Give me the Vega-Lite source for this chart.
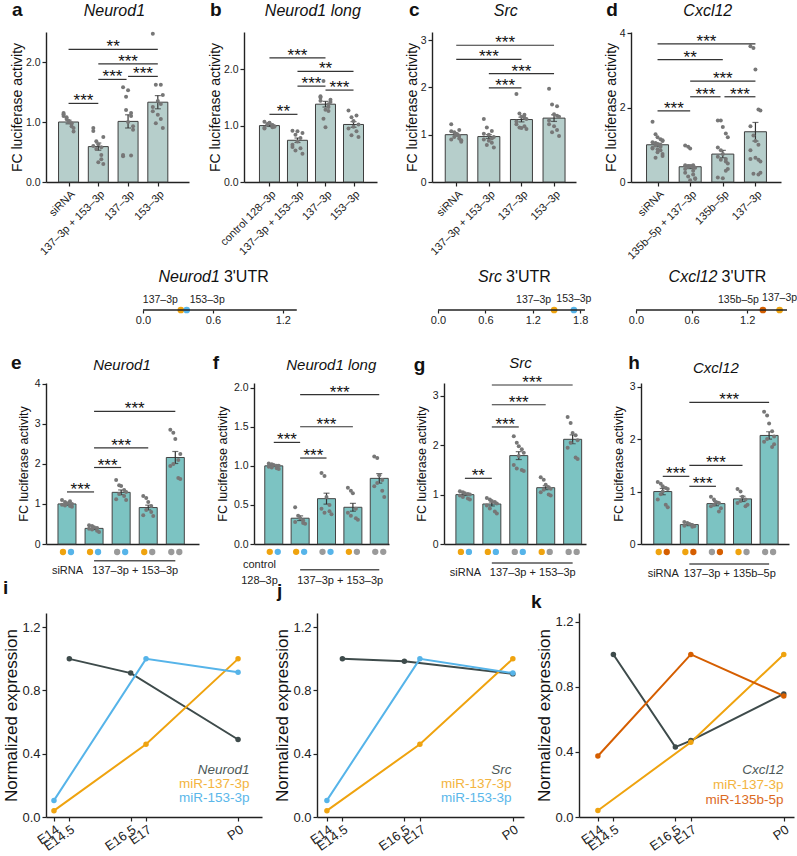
{
"$schema": "https://vega.github.io/schema/vega-lite/v6.json",
"padding": {"left": 2, "top": 0, "right": 0, "bottom": 0},
"config": {
 "font": "Liberation Sans",
 "view": {"stroke": null},
 "axis": {"grid": false, "domainColor": "#222", "domainWidth": 1.4, "tickColor": "#222", "tickWidth": 1.2, "tickSize": 4, "labelColor": "#222", "labelFontSize": 11, "labelFlush": false, "labelOverlap": false, "labelBound": false, "titleColor": "#111", "titleFontWeight": "normal", "titleFontSize": 14, "labelPadding": 2},
 "text": {"color": "#111"},
 "legend": {"padding": 0}
},
"datasets": {
 "bars": [
  {"p":"a","x":1,"y":1.0,"lo":0.97,"hi":1.03},{"p":"a","x":2,"y":0.59,"lo":0.53,"hi":0.65},{"p":"a","x":3,"y":1.01,"lo":0.9,"hi":1.12},{"p":"a","x":4,"y":1.33,"lo":1.22,"hi":1.44},
  {"p":"b","x":1,"y":1.0,"lo":0.985,"hi":1.015},{"p":"b","x":2,"y":0.74,"lo":0.7,"hi":0.78},{"p":"b","x":3,"y":1.38,"lo":1.33,"hi":1.43},{"p":"b","x":4,"y":1.02,"lo":0.97,"hi":1.07},
  {"p":"c","x":1,"y":1.0,"lo":0.97,"hi":1.03},{"p":"c","x":2,"y":0.96,"lo":0.92,"hi":1.0},{"p":"c","x":3,"y":1.32,"lo":1.27,"hi":1.37},{"p":"c","x":4,"y":1.35,"lo":1.28,"hi":1.42},
  {"p":"d","x":1,"y":1.0,"lo":0.96,"hi":1.04},{"p":"d","x":2,"y":0.41,"lo":0.36,"hi":0.46},{"p":"d","x":3,"y":0.75,"lo":0.65,"hi":0.85},{"p":"d","x":4,"y":1.35,"lo":1.1,"hi":1.6},
  {"p":"e","x":1,"y":1.0,"lo":0.97,"hi":1.03},{"p":"e","x":2,"y":0.39,"lo":0.36,"hi":0.42},{"p":"e","x":3,"y":1.29,"lo":1.23,"hi":1.35},{"p":"e","x":4,"y":0.91,"lo":0.85,"hi":0.97},{"p":"e","x":5,"y":2.16,"lo":2.01,"hi":2.31},
  {"p":"f","x":1,"y":1.0,"lo":0.99,"hi":1.01},{"p":"f","x":2,"y":0.33,"lo":0.3,"hi":0.36},{"p":"f","x":3,"y":0.58,"lo":0.51,"hi":0.65},{"p":"f","x":4,"y":0.47,"lo":0.42,"hi":0.52},{"p":"f","x":5,"y":0.84,"lo":0.78,"hi":0.9},
  {"p":"g","x":1,"y":1.0,"lo":0.98,"hi":1.02},{"p":"g","x":2,"y":0.81,"lo":0.77,"hi":0.85},{"p":"g","x":3,"y":1.79,"lo":1.71,"hi":1.87},{"p":"g","x":4,"y":1.14,"lo":1.1,"hi":1.18},{"p":"g","x":5,"y":2.12,"lo":2.03,"hi":2.21},
  {"p":"h","x":1,"y":1.0,"lo":0.94,"hi":1.06},{"p":"h","x":2,"y":0.37,"lo":0.35,"hi":0.39},{"p":"h","x":3,"y":0.77,"lo":0.73,"hi":0.81},{"p":"h","x":4,"y":0.86,"lo":0.81,"hi":0.91},{"p":"h","x":5,"y":2.07,"lo":2.0,"hi":2.14}
 ],
 "pts": [
  {"p":"a","x":1,"y":[1.15,0.93,1.08,0.84,1.02,1.13,0.98,1.05,0.9,1.0,1.1,0.97]},
  {"p":"a","x":2,"y":[0.9,0.45,0.68,0.3,0.63,0.85,0.38,0.55,0.75,0.33,0.6,0.58]},
  {"p":"a","x":3,"y":[1.58,0.44,1.2,0.93,1.53,0.43,1.1,1.42,0.87,1.0,0.45,1.15]},
  {"p":"a","x":4,"y":[2.47,1.05,1.62,0.9,1.35,1.18,1.62,0.98,1.45,1.12,1.25,1.3]},
  {"p":"b","x":1,"y":[1.07,0.97,1.03,0.99,1.05,0.96,1.0,1.02,0.98,1.04,0.95,1.01]},
  {"p":"b","x":2,"y":[0.91,0.6,0.84,0.5,0.9,0.66,0.78,0.56,0.87,0.72,0.62]},
  {"p":"b","x":3,"y":[1.52,1.26,1.79,1.42,0.97,1.5,1.33,1.12,1.46,1.28,1.44,1.38]},
  {"p":"b","x":4,"y":[1.27,0.9,1.15,0.8,1.08,0.95,1.18,0.83,1.02,0.98]},
  {"p":"c","x":1,"y":[1.22,0.92,1.05,0.85,1.02,0.9,1.1,0.95,0.88,1.0,1.07,0.98]},
  {"p":"c","x":2,"y":[1.33,0.83,1.15,0.73,1.0,0.9,1.08,0.78,0.95,0.87,1.02,0.92]},
  {"p":"c","x":3,"y":[1.86,1.18,1.45,1.12,1.38,1.22,1.42,1.15,1.33,1.14,1.28,1.36]},
  {"p":"c","x":4,"y":[1.97,1.1,1.64,0.97,1.43,1.22,1.6,1.05,1.38,1.18,1.3,1.4]},
  {"p":"d","x":1,"y":[1.62,0.85,1.28,0.7,1.2,0.92,1.15,0.98,1.1,0.8,1.07,0.95,1.05,0.75,1.02,0.9,1.0,0.65,1.12,0.88]},
  {"p":"d","x":2,"y":[0.98,0.3,0.95,0.1,0.9,0.45,0.2,0.43,0.08,0.42,0.25,0.4,0.15,0.38,0.05,0.35,0.45,0.4]},
  {"p":"d","x":3,"y":[1.65,0.3,1.65,0.5,1.48,0.12,1.3,0.6,1.2,0.1,0.93,0.55,0.85,0.35,0.75,0.68,0.62]},
  {"p":"d","x":4,"y":[3.65,0.6,3.6,0.25,3.02,0.85,1.95,0.22,1.92,0.65,1.5,0.2,1.25,0.55,1.1,0.62,1.0]},
  {"p":"e","x":1,"y":[1.1,0.95,1.05,0.93,1.02,0.98,1.07,0.96,1.0]},
  {"p":"e","x":2,"y":[0.47,0.33,0.45,0.3,0.42,0.38,0.4,0.36]},
  {"p":"e","x":3,"y":[1.6,1.2,1.47,1.1,1.45,1.12,1.35,1.25,1.3]},
  {"p":"e","x":4,"y":[1.2,0.8,1.15,0.7,1.05,0.72,0.95,0.85]},
  {"p":"e","x":5,"y":[2.85,1.65,2.78,1.62,2.62,1.95,2.1,2.0,2.25]},
  {"p":"f","x":1,"y":[1.03,0.97,1.02,0.96,1.01,0.99,1.0,0.98,1.0]},
  {"p":"f","x":2,"y":[0.47,0.27,0.36,0.26,0.33,0.28,0.3]},
  {"p":"f","x":3,"y":[0.91,0.42,0.87,0.38,0.6,0.45,0.5,0.4]},
  {"p":"f","x":4,"y":[0.72,0.33,0.68,0.31,0.65,0.4,0.45,0.36]},
  {"p":"f","x":5,"y":[1.12,0.68,1.1,0.6,0.88,0.74,0.82,0.78]},
  {"p":"g","x":1,"y":[1.07,0.92,1.05,0.9,1.03,0.98,1.01,0.95,1.0]},
  {"p":"g","x":2,"y":[0.93,0.66,0.9,0.62,0.87,0.78,0.85,0.72,0.82]},
  {"p":"g","x":3,"y":[2.18,1.5,2.05,1.48,1.98,1.6,1.92,1.53,1.85,1.78]},
  {"p":"g","x":4,"y":[1.35,1.0,1.3,0.98,1.2,1.05,1.15,1.1,1.12]},
  {"p":"g","x":5,"y":[2.57,1.75,2.45,1.72,2.25,1.95,2.2,2.05,2.1]},
  {"p":"h","x":1,"y":[1.18,0.75,1.15,0.7,1.1,0.85,1.07,0.95,1.05,1.0]},
  {"p":"h","x":2,"y":[0.42,0.33,0.4,0.34,0.38,0.35,0.36]},
  {"p":"h","x":3,"y":[0.9,0.62,0.85,0.68,0.8,0.72,0.78,0.75]},
  {"p":"h","x":4,"y":[1.05,0.72,1.0,0.75,0.9,0.78,0.85,0.82]},
  {"p":"h","x":5,"y":[2.52,1.85,2.45,1.9,2.3,1.95,2.15,2.0,2.05]}
 ],
 "sig": [
  {"p":"a","x":1,"x2":2,"y":1.31,"s":"***"},{"p":"a","x":2,"x2":2.95,"y":1.71,"s":"***"},{"p":"a","x":3,"x2":4,"y":1.76,"s":"***"},{"p":"a","x":2,"x2":4,"y":1.97,"s":"***"},{"p":"a","x":1,"x2":4,"y":2.21,"s":"**"},
  {"p":"b","x":1,"x2":2,"y":1.2,"s":"**"},{"p":"b","x":1,"x2":3,"y":2.2,"s":"***"},{"p":"b","x":2,"x2":4,"y":1.96,"s":"**"},{"p":"b","x":2,"x2":3,"y":1.7,"s":"***"},{"p":"b","x":3,"x2":4,"y":1.63,"s":"***"},
  {"p":"c","x":1,"x2":4,"y":2.89,"s":"***"},{"p":"c","x":1,"x2":3,"y":2.59,"s":"***"},{"p":"c","x":2,"x2":4,"y":2.29,"s":"***"},{"p":"c","x":2,"x2":3,"y":1.99,"s":"***"},
  {"p":"d","x":1,"x2":4,"y":3.71,"s":"***"},{"p":"d","x":1,"x2":3,"y":3.29,"s":"**"},{"p":"d","x":2,"x2":4,"y":2.71,"s":"***"},{"p":"d","x":2,"x2":2.93,"y":2.29,"s":"***"},{"p":"d","x":3.05,"x2":4,"y":2.29,"s":"***"},{"p":"d","x":1,"x2":2,"y":1.91,"s":"***"},
  {"p":"e","x":1,"x2":2,"y":1.3,"s":"***"},{"p":"e","x":2,"x2":3,"y":1.91,"s":"***"},{"p":"e","x":2,"x2":4,"y":2.4,"s":"***"},{"p":"e","x":2,"x2":5,"y":3.31,"s":"***"},
  {"p":"f","x":1,"x2":2,"y":1.3,"s":"***"},{"p":"f","x":2,"x2":3,"y":1.1,"s":"***"},{"p":"f","x":2,"x2":4,"y":1.5,"s":"***"},{"p":"f","x":2,"x2":5,"y":1.91,"s":"***"},
  {"p":"g","x":1,"x2":2,"y":1.33,"s":"**"},{"p":"g","x":2,"x2":3,"y":2.37,"s":"***"},{"p":"g","x":2,"x2":4,"y":2.82,"s":"***"},{"p":"g","x":2,"x2":5,"y":3.22,"s":"***"},
  {"p":"h","x":1,"x2":2,"y":1.29,"s":"***"},{"p":"h","x":2,"x2":3,"y":1.1,"s":"***"},{"p":"h","x":2,"x2":4,"y":1.5,"s":"***"},{"p":"h","x":2,"x2":5,"y":2.7,"s":"***"}
 ],
 "dots": [
  {"p":"e","x":1,"a":"o","b":"b"},{"p":"e","x":2,"a":"o","b":"b"},{"p":"e","x":3,"a":"g","b":"b"},{"p":"e","x":4,"a":"o","b":"g"},{"p":"e","x":5,"a":"g","b":"g"},
  {"p":"f","x":1,"a":"o","b":"b"},{"p":"f","x":2,"a":"o","b":"b"},{"p":"f","x":3,"a":"g","b":"b"},{"p":"f","x":4,"a":"o","b":"g"},{"p":"f","x":5,"a":"g","b":"g"},
  {"p":"g","x":1,"a":"o","b":"b"},{"p":"g","x":2,"a":"o","b":"b"},{"p":"g","x":3,"a":"g","b":"b"},{"p":"g","x":4,"a":"o","b":"g"},{"p":"g","x":5,"a":"g","b":"g"},
  {"p":"h","x":1,"a":"o","b":"r"},{"p":"h","x":2,"a":"o","b":"r"},{"p":"h","x":3,"a":"g","b":"r"},{"p":"h","x":4,"a":"o","b":"g"},{"p":"h","x":5,"a":"g","b":"g"}
 ],
 "grp": [{"p":"e","from":2,"to":5},{"p":"f","from":2,"to":5},{"p":"g","from":2,"to":5},{"p":"h","from":2,"to":5}],
 "utr": [
  {"p":"N","x":0.325,"s":"137–3p","c":"o","side":"L"},{"p":"N","x":0.375,"s":"153–3p","c":"b","side":"R"},
  {"p":"S","x":1.47,"s":"137–3p","c":"o","side":"L"},{"p":"S","x":1.72,"s":"153–3p","c":"b","side":"C"},
  {"p":"C","x":1.37,"s":"135b–5p","c":"r","side":"L"},{"p":"C","x":1.55,"s":"137–3p","c":"o","side":"C"}
 ],
 "utrlen": [{"p":"N","from":0,"len":1.32},{"p":"S","from":0,"len":1.86},{"p":"C","from":0,"len":1.63}],
 "expr": [
  {"p":"i","s":"Neurod1","x":14.5,"y":1.0},{"p":"i","s":"Neurod1","x":16.5,"y":0.91},{"p":"i","s":"Neurod1","x":20,"y":0.49},
  {"p":"i","s":"miR-137-3p","x":14,"y":0.04},{"p":"i","s":"miR-137-3p","x":17,"y":0.46},{"p":"i","s":"miR-137-3p","x":20,"y":1.0},
  {"p":"i","s":"miR-153-3p","x":14,"y":0.105},{"p":"i","s":"miR-153-3p","x":17,"y":1.0},{"p":"i","s":"miR-153-3p","x":20,"y":0.915},
  {"p":"j","s":"Src","x":14.5,"y":1.0},{"p":"j","s":"Src","x":16.5,"y":0.985},{"p":"j","s":"Src","x":20,"y":0.905},
  {"p":"j","s":"miR-137-3p","x":14,"y":0.04},{"p":"j","s":"miR-137-3p","x":17,"y":0.46},{"p":"j","s":"miR-137-3p","x":20,"y":1.0},
  {"p":"j","s":"miR-153-3p","x":14,"y":0.105},{"p":"j","s":"miR-153-3p","x":17,"y":1.0},{"p":"j","s":"miR-153-3p","x":20,"y":0.91},
  {"p":"k","s":"Cxcl12","x":14.5,"y":1.0},{"p":"k","s":"Cxcl12","x":16.5,"y":0.43},{"p":"k","s":"Cxcl12","x":17,"y":0.47},{"p":"k","s":"Cxcl12","x":20,"y":0.757},
  {"p":"k","s":"miR-137-3p","x":14,"y":0.04},{"p":"k","s":"miR-137-3p","x":17,"y":0.46},{"p":"k","s":"miR-137-3p","x":20,"y":1.0},
  {"p":"k","s":"miR-135b-5p","x":14,"y":0.375},{"p":"k","s":"miR-135b-5p","x":17,"y":1.0},{"p":"k","s":"miR-135b-5p","x":20,"y":0.745}
 ]
},
"resolve": {"scale": {"color": "independent"}, "legend": {"color": "independent"}},
"spacing": 28,
"vconcat": [
{
 "spacing": 8,
 "resolve": {"scale": {"color": "independent"}, "legend": {"color": "independent"}},
 "vconcat": [
 {
  "hconcat": [
  {
   "width": 143, "height": 150,
   "layer": [
    {"encoding": {
      "x": {"field": "x", "type": "quantitative", "scale": {"domain": [0.41, 4.88], "nice": false, "zero": false},
            "axis": {"title": null, "values": [1,2,3,4], "labelExpr": "['','siRNA','137–3p + 153–3p','137–3p','153–3p'][datum.value]", "labelAngle": -45, "labelAlign": "right", "labelBaseline": "top"}},
      "y": {"field": "y", "type": "quantitative", "scale": {"domain": [0, 2.5], "nice": false},
            "axis": {"title": "FC luciferase activity", "titlePadding": 1, "labelFontSize": 10.5, "values": [0,0.5,1,1.5,2], "format": ".1f"}}},
     "layer": [
      {"data": {"name": "bars"}, "transform": [{"filter": "datum.p=='a'"}], "layer": [
        {"mark": {"type": "bar", "size": 20, "fill": "#b6cecb", "stroke": "#3d3d3d", "strokeWidth": 1}},
        {"mark": {"type": "rule", "color": "#333", "strokeWidth": 1.2}, "encoding": {"y": {"field": "lo", "type": "quantitative"}, "y2": {"field": "hi"}}},
        {"mark": {"type": "tick", "orient": "horizontal", "size": 6, "thickness": 1.2, "color": "#333"}, "encoding": {"y": {"field": "lo", "type": "quantitative"}}},
        {"mark": {"type": "tick", "orient": "horizontal", "size": 6, "thickness": 1.2, "color": "#333"}, "encoding": {"y": {"field": "hi", "type": "quantitative"}}}
      ]},
      {"data": {"name": "pts"}, "transform": [{"filter": "datum.p=='a'"}, {"flatten": ["y"]}, {"window": [{"op": "row_number", "as": "i"}], "groupby": ["x"]}], "layer": [
        {"transform": [{"filter": "datum.i%5==1"}], "mark": {"type": "circle", "size": 16, "color": "#777", "opacity": 1, "xOffset": -5}},
        {"transform": [{"filter": "datum.i%5==2"}], "mark": {"type": "circle", "size": 16, "color": "#777", "opacity": 1, "xOffset": 3}},
        {"transform": [{"filter": "datum.i%5==3"}], "mark": {"type": "circle", "size": 16, "color": "#777", "opacity": 1, "xOffset": -2}},
        {"transform": [{"filter": "datum.i%5==4"}], "mark": {"type": "circle", "size": 16, "color": "#777", "opacity": 1, "xOffset": 5}},
        {"transform": [{"filter": "datum.i%5==0"}], "mark": {"type": "circle", "size": 16, "color": "#777", "opacity": 1, "xOffset": 0}}
      ]},
      {"data": {"name": "sig"}, "transform": [{"filter": "datum.p=='a'"}], "layer": [
        {"mark": {"type": "rule", "color": "#333", "strokeWidth": 1.2}, "encoding": {"x2": {"field": "x2"}}},
        {"transform": [{"calculate": "(datum.x+datum.x2)/2", "as": "xm"}], "mark": {"type": "text", "fontSize": 17, "baseline": "alphabetic", "dy": 3}, "encoding": {"x": {"field": "xm", "type": "quantitative"}, "text": {"field": "s"}}}
      ]}
     ]},
    {"data": {"values": [{}]}, "mark": {"type": "text", "text": "Neurod1", "fontSize": 16, "fontStyle": "italic", "align": "center", "baseline": "middle"}, "encoding": {"x": {"datum": 2.54, "type": "quantitative"}, "y": {"datum": 2.85, "type": "quantitative"}}},
    {"data": {"values": [{}]}, "mark": {"type": "text", "text": "a", "fontSize": 19, "fontWeight": "bold", "align": "left", "baseline": "middle"}, "encoding": {"x": {"datum": -0.9, "type": "quantitative"}, "y": {"datum": 2.87, "type": "quantitative"}}}
   ]
  },
  {
   "width": 133, "height": 150,
   "layer": [
    {"encoding": {
      "x": {"field": "x", "type": "quantitative", "scale": {"domain": [0.27, 4.66], "nice": false, "zero": false},
            "axis": {"title": null, "values": [1,2,3,4], "labelExpr": "['','control 128–3p','137–3p + 153–3p','137–3p','153–3p'][datum.value]", "labelAngle": -45, "labelAlign": "right", "labelBaseline": "top"}},
      "y": {"field": "y", "type": "quantitative", "scale": {"domain": [0, 2.66], "nice": false},
            "axis": {"title": "FC luciferase activity", "titlePadding": 1, "labelFontSize": 10.5, "values": [0,0.5,1,1.5,2,2.5], "format": ".1f"}}},
     "layer": [
      {"data": {"name": "bars"}, "transform": [{"filter": "datum.p=='b'"}], "layer": [
        {"mark": {"type": "bar", "size": 20, "fill": "#b6cecb", "stroke": "#3d3d3d", "strokeWidth": 1}},
        {"mark": {"type": "rule", "color": "#333", "strokeWidth": 1.2}, "encoding": {"y": {"field": "lo", "type": "quantitative"}, "y2": {"field": "hi"}}},
        {"mark": {"type": "tick", "orient": "horizontal", "size": 6, "thickness": 1.2, "color": "#333"}, "encoding": {"y": {"field": "lo", "type": "quantitative"}}},
        {"mark": {"type": "tick", "orient": "horizontal", "size": 6, "thickness": 1.2, "color": "#333"}, "encoding": {"y": {"field": "hi", "type": "quantitative"}}}
      ]},
      {"data": {"name": "pts"}, "transform": [{"filter": "datum.p=='b'"}, {"flatten": ["y"]}, {"window": [{"op": "row_number", "as": "i"}], "groupby": ["x"]}], "layer": [
        {"transform": [{"filter": "datum.i%5==1"}], "mark": {"type": "circle", "size": 16, "color": "#777", "opacity": 1, "xOffset": -5}},
        {"transform": [{"filter": "datum.i%5==2"}], "mark": {"type": "circle", "size": 16, "color": "#777", "opacity": 1, "xOffset": 3}},
        {"transform": [{"filter": "datum.i%5==3"}], "mark": {"type": "circle", "size": 16, "color": "#777", "opacity": 1, "xOffset": -2}},
        {"transform": [{"filter": "datum.i%5==4"}], "mark": {"type": "circle", "size": 16, "color": "#777", "opacity": 1, "xOffset": 5}},
        {"transform": [{"filter": "datum.i%5==0"}], "mark": {"type": "circle", "size": 16, "color": "#777", "opacity": 1, "xOffset": 0}}
      ]},
      {"data": {"name": "sig"}, "transform": [{"filter": "datum.p=='b'"}], "layer": [
        {"mark": {"type": "rule", "color": "#333", "strokeWidth": 1.2}, "encoding": {"x2": {"field": "x2"}}},
        {"transform": [{"calculate": "(datum.x+datum.x2)/2", "as": "xm"}], "mark": {"type": "text", "fontSize": 17, "baseline": "alphabetic", "dy": 3}, "encoding": {"x": {"field": "xm", "type": "quantitative"}, "text": {"field": "s"}}}
      ]}
     ]},
    {"data": {"values": [{}]}, "mark": {"type": "text", "text": "Neurod1 long", "fontSize": 16, "fontStyle": "italic", "align": "center", "baseline": "middle"}, "encoding": {"x": {"datum": 2.55, "type": "quantitative"}, "y": {"datum": 3.03, "type": "quantitative"}}},
    {"data": {"values": [{}]}, "mark": {"type": "text", "text": "b", "fontSize": 19, "fontWeight": "bold", "align": "left", "baseline": "middle"}, "encoding": {"x": {"datum": -1.12, "type": "quantitative"}, "y": {"datum": 3.05, "type": "quantitative"}}}
   ]
  },
  {
   "width": 144, "height": 150,
   "layer": [
    {"encoding": {
      "x": {"field": "x", "type": "quantitative", "scale": {"domain": [0.41, 4.52], "nice": false, "zero": false},
            "axis": {"title": null, "values": [1,2,3,4], "labelExpr": "['','siRNA','137–3p + 153–3p','137–3p','153–3p'][datum.value]", "labelAngle": -45, "labelAlign": "right", "labelBaseline": "top"}},
      "y": {"field": "y", "type": "quantitative", "scale": {"domain": [0, 3.17], "nice": false},
            "axis": {"title": "FC luciferase activity", "titlePadding": 1, "labelFontSize": 10.5, "values": [0,1,2,3], "format": "d"}}},
     "layer": [
      {"data": {"name": "bars"}, "transform": [{"filter": "datum.p=='c'"}], "layer": [
        {"mark": {"type": "bar", "size": 22, "fill": "#b6cecb", "stroke": "#3d3d3d", "strokeWidth": 1}},
        {"mark": {"type": "rule", "color": "#333", "strokeWidth": 1.2}, "encoding": {"y": {"field": "lo", "type": "quantitative"}, "y2": {"field": "hi"}}},
        {"mark": {"type": "tick", "orient": "horizontal", "size": 6, "thickness": 1.2, "color": "#333"}, "encoding": {"y": {"field": "lo", "type": "quantitative"}}},
        {"mark": {"type": "tick", "orient": "horizontal", "size": 6, "thickness": 1.2, "color": "#333"}, "encoding": {"y": {"field": "hi", "type": "quantitative"}}}
      ]},
      {"data": {"name": "pts"}, "transform": [{"filter": "datum.p=='c'"}, {"flatten": ["y"]}, {"window": [{"op": "row_number", "as": "i"}], "groupby": ["x"]}], "layer": [
        {"transform": [{"filter": "datum.i%5==1"}], "mark": {"type": "circle", "size": 16, "color": "#777", "opacity": 1, "xOffset": -5}},
        {"transform": [{"filter": "datum.i%5==2"}], "mark": {"type": "circle", "size": 16, "color": "#777", "opacity": 1, "xOffset": 3}},
        {"transform": [{"filter": "datum.i%5==3"}], "mark": {"type": "circle", "size": 16, "color": "#777", "opacity": 1, "xOffset": -2}},
        {"transform": [{"filter": "datum.i%5==4"}], "mark": {"type": "circle", "size": 16, "color": "#777", "opacity": 1, "xOffset": 5}},
        {"transform": [{"filter": "datum.i%5==0"}], "mark": {"type": "circle", "size": 16, "color": "#777", "opacity": 1, "xOffset": 0}}
      ]},
      {"data": {"name": "sig"}, "transform": [{"filter": "datum.p=='c'"}], "layer": [
        {"mark": {"type": "rule", "color": "#333", "strokeWidth": 1.2}, "encoding": {"x2": {"field": "x2"}}},
        {"transform": [{"calculate": "(datum.x+datum.x2)/2", "as": "xm"}], "mark": {"type": "text", "fontSize": 17, "baseline": "alphabetic", "dy": 3}, "encoding": {"x": {"field": "xm", "type": "quantitative"}, "text": {"field": "s"}}}
      ]}
     ]},
    {"data": {"values": [{}]}, "mark": {"type": "text", "text": "Src", "fontSize": 16, "fontStyle": "italic", "align": "center", "baseline": "middle"}, "encoding": {"x": {"datum": 2.52, "type": "quantitative"}, "y": {"datum": 3.61, "type": "quantitative"}}},
    {"data": {"values": [{}]}, "mark": {"type": "text", "text": "c", "fontSize": 19, "fontWeight": "bold", "align": "left", "baseline": "middle"}, "encoding": {"x": {"datum": -0.45, "type": "quantitative"}, "y": {"datum": 3.64, "type": "quantitative"}}}
   ]
  },
  {
   "width": 150, "height": 150,
   "layer": [
    {"encoding": {
      "x": {"field": "x", "type": "quantitative", "scale": {"domain": [0.34, 4.63], "nice": false, "zero": false},
            "axis": {"title": null, "values": [1,2,3,4], "labelExpr": "['','siRNA','135b–5p + 137–3p','135b–5p','137–3p'][datum.value]", "labelAngle": -45, "labelAlign": "right", "labelBaseline": "top"}},
      "y": {"field": "y", "type": "quantitative", "scale": {"domain": [0, 4.03], "nice": false},
            "axis": {"title": "FC luciferase activity", "titlePadding": 1, "labelFontSize": 10.5, "values": [0,1,2,3,4], "format": "d"}}},
     "layer": [
      {"data": {"name": "bars"}, "transform": [{"filter": "datum.p=='d'"}], "layer": [
        {"mark": {"type": "bar", "size": 22, "fill": "#b6cecb", "stroke": "#3d3d3d", "strokeWidth": 1}},
        {"mark": {"type": "rule", "color": "#333", "strokeWidth": 1.2}, "encoding": {"y": {"field": "lo", "type": "quantitative"}, "y2": {"field": "hi"}}},
        {"mark": {"type": "tick", "orient": "horizontal", "size": 6, "thickness": 1.2, "color": "#333"}, "encoding": {"y": {"field": "lo", "type": "quantitative"}}},
        {"mark": {"type": "tick", "orient": "horizontal", "size": 6, "thickness": 1.2, "color": "#333"}, "encoding": {"y": {"field": "hi", "type": "quantitative"}}}
      ]},
      {"data": {"name": "pts"}, "transform": [{"filter": "datum.p=='d'"}, {"flatten": ["y"]}, {"window": [{"op": "row_number", "as": "i"}], "groupby": ["x"]}], "layer": [
        {"transform": [{"filter": "datum.i%5==1"}], "mark": {"type": "circle", "size": 16, "color": "#777", "opacity": 1, "xOffset": -5}},
        {"transform": [{"filter": "datum.i%5==2"}], "mark": {"type": "circle", "size": 16, "color": "#777", "opacity": 1, "xOffset": 3}},
        {"transform": [{"filter": "datum.i%5==3"}], "mark": {"type": "circle", "size": 16, "color": "#777", "opacity": 1, "xOffset": -2}},
        {"transform": [{"filter": "datum.i%5==4"}], "mark": {"type": "circle", "size": 16, "color": "#777", "opacity": 1, "xOffset": 5}},
        {"transform": [{"filter": "datum.i%5==0"}], "mark": {"type": "circle", "size": 16, "color": "#777", "opacity": 1, "xOffset": 0}}
      ]},
      {"data": {"name": "sig"}, "transform": [{"filter": "datum.p=='d'"}], "layer": [
        {"mark": {"type": "rule", "color": "#333", "strokeWidth": 1.2}, "encoding": {"x2": {"field": "x2"}}},
        {"transform": [{"calculate": "(datum.x+datum.x2)/2", "as": "xm"}], "mark": {"type": "text", "fontSize": 17, "baseline": "alphabetic", "dy": 3}, "encoding": {"x": {"field": "xm", "type": "quantitative"}, "text": {"field": "s"}}}
      ]}
     ]},
    {"data": {"values": [{}]}, "mark": {"type": "text", "text": "Cxcl12", "fontSize": 16, "fontStyle": "italic", "align": "center", "baseline": "middle"}, "encoding": {"x": {"datum": 2.54, "type": "quantitative"}, "y": {"datum": 4.59, "type": "quantitative"}}},
    {"data": {"values": [{}]}, "mark": {"type": "text", "text": "d", "fontSize": 19, "fontWeight": "bold", "align": "left", "baseline": "middle"}, "encoding": {"x": {"datum": -0.57, "type": "quantitative"}, "y": {"datum": 4.62, "type": "quantitative"}}}
   ]
  }
  ],
  "bounds": "flush",
  "spacing": 55
 },
 {
  "hconcat": [
  {"width": 42, "height": 40, "data": {"values": [{}]}, "mark": {"type": "text", "text": ""}, "encoding": {}},
  {
   "width": 240, "height": 40,
   "layer": [
    {"data": {"name": "utr"}, "transform": [{"filter": "datum.p=='N'"}],
     "encoding": {
      "x": {"field": "x", "type": "quantitative", "scale": {"domain": [0, 2.06], "nice": false, "zero": false}, "axis": {"title": null, "values": [0, 0.6, 1.2], "format": ".1f", "domain": false, "tickSize": 3, "labelFontSize": 11, "labelPadding": 1}},
      "y": {"datum": 0, "type": "quantitative", "scale": {"domain": [0, 1]}, "axis": null}},
     "layer": [
      {"mark": {"type": "circle", "size": 45, "opacity": 1}, "encoding": {"color": {"field": "c", "type": "nominal", "scale": {"domain": ["o","b","g","r"], "range": ["#efa30f","#56b4e9","#9a9a9a","#d55e00"]}, "legend": null}}},
      {"transform": [{"filter": "datum.side=='L'"}], "mark": {"type": "text", "align": "right", "dx": -3, "dy": -10, "fontSize": 10.5, "color": "#222"}, "encoding": {"text": {"field": "s"}}},
      {"transform": [{"filter": "datum.side=='R'"}], "mark": {"type": "text", "align": "left", "dx": 3, "dy": -10, "fontSize": 10.5, "color": "#222"}, "encoding": {"text": {"field": "s"}}},
      {"transform": [{"filter": "datum.side=='C'"}], "mark": {"type": "text", "align": "center", "dy": -11, "fontSize": 10.5, "color": "#222"}, "encoding": {"text": {"field": "s"}}}
     ]},
    {"data": {"name": "utrlen"}, "transform": [{"filter": "datum.p=='N'"}], "mark": {"type": "rule", "color": "#222", "strokeWidth": 1.4}, "encoding": {"x": {"field": "from", "type": "quantitative"}, "x2": {"field": "len"}, "y": {"datum": 0, "type": "quantitative"}}},
    {"data": {"values": [{}]}, "mark": {"type": "text", "text": "Neurod1", "fontStyle": "italic", "fontSize": 16, "align": "right", "baseline": "middle"}, "encoding": {"x": {"datum": 0.66, "type": "quantitative"}, "y": {"datum": 0.825, "type": "quantitative"}}},
    {"data": {"values": [{}]}, "mark": {"type": "text", "text": "3'UTR", "fontSize": 16, "align": "left", "baseline": "middle", "dx": 4}, "encoding": {"x": {"datum": 0.66, "type": "quantitative"}, "y": {"datum": 0.825, "type": "quantitative"}}}
   ]
  },
  {
   "width": 143, "height": 40,
   "layer": [
    {"data": {"name": "utr"}, "transform": [{"filter": "datum.p=='S'"}],
     "encoding": {
      "x": {"field": "x", "type": "quantitative", "scale": {"domain": [0, 1.81], "nice": false, "zero": false}, "axis": {"title": null, "values": [0, 0.6, 1.2, 1.8], "format": ".1f", "domain": false, "tickSize": 3, "labelFontSize": 11, "labelPadding": 1}},
      "y": {"datum": 0, "type": "quantitative", "scale": {"domain": [0, 1]}, "axis": null}},
     "layer": [
      {"mark": {"type": "circle", "size": 45, "opacity": 1}, "encoding": {"color": {"field": "c", "type": "nominal", "scale": {"domain": ["o","b","g","r"], "range": ["#efa30f","#56b4e9","#9a9a9a","#d55e00"]}, "legend": null}}},
      {"transform": [{"filter": "datum.side=='L'"}], "mark": {"type": "text", "align": "right", "dx": -3, "dy": -10, "fontSize": 10.5, "color": "#222"}, "encoding": {"text": {"field": "s"}}},
      {"transform": [{"filter": "datum.side=='R'"}], "mark": {"type": "text", "align": "left", "dx": 3, "dy": -10, "fontSize": 10.5, "color": "#222"}, "encoding": {"text": {"field": "s"}}},
      {"transform": [{"filter": "datum.side=='C'"}], "mark": {"type": "text", "align": "center", "dy": -11, "fontSize": 10.5, "color": "#222"}, "encoding": {"text": {"field": "s"}}}
     ]},
    {"data": {"name": "utrlen"}, "transform": [{"filter": "datum.p=='S'"}], "mark": {"type": "rule", "color": "#222", "strokeWidth": 1.4}, "encoding": {"x": {"field": "from", "type": "quantitative"}, "x2": {"field": "len"}, "y": {"datum": 0, "type": "quantitative"}}},
    {"data": {"values": [{}]}, "mark": {"type": "text", "text": "Src", "fontStyle": "italic", "fontSize": 16, "align": "right", "baseline": "middle"}, "encoding": {"x": {"datum": 0.81, "type": "quantitative"}, "y": {"datum": 0.825, "type": "quantitative"}}},
    {"data": {"values": [{}]}, "mark": {"type": "text", "text": "3'UTR", "fontSize": 16, "align": "left", "baseline": "middle", "dx": 4}, "encoding": {"x": {"datum": 0.81, "type": "quantitative"}, "y": {"datum": 0.825, "type": "quantitative"}}}
   ]
  },
  {
   "width": 151, "height": 40,
   "layer": [
    {"data": {"name": "utr"}, "transform": [{"filter": "datum.p=='C'"}],
     "encoding": {
      "x": {"field": "x", "type": "quantitative", "scale": {"domain": [0, 1.63], "nice": false, "zero": false}, "axis": {"title": null, "values": [0, 0.6, 1.2], "format": ".1f", "domain": false, "tickSize": 3, "labelFontSize": 11, "labelPadding": 1}},
      "y": {"datum": 0, "type": "quantitative", "scale": {"domain": [0, 1]}, "axis": null}},
     "layer": [
      {"mark": {"type": "circle", "size": 45, "opacity": 1}, "encoding": {"color": {"field": "c", "type": "nominal", "scale": {"domain": ["o","b","g","r"], "range": ["#efa30f","#56b4e9","#9a9a9a","#d55e00"]}, "legend": null}}},
      {"transform": [{"filter": "datum.side=='L'"}], "mark": {"type": "text", "align": "right", "dx": -4, "dy": -10, "fontSize": 10.5, "color": "#222"}, "encoding": {"text": {"field": "s"}}},
      {"transform": [{"filter": "datum.side=='R'"}], "mark": {"type": "text", "align": "left", "dx": 3, "dy": -10, "fontSize": 10.5, "color": "#222"}, "encoding": {"text": {"field": "s"}}},
      {"transform": [{"filter": "datum.side=='C'"}], "mark": {"type": "text", "align": "center", "dy": -12, "fontSize": 10.5, "color": "#222"}, "encoding": {"text": {"field": "s"}}}
     ]},
    {"data": {"name": "utrlen"}, "transform": [{"filter": "datum.p=='C'"}], "mark": {"type": "rule", "color": "#222", "strokeWidth": 1.4}, "encoding": {"x": {"field": "from", "type": "quantitative"}, "x2": {"field": "len"}, "y": {"datum": 0, "type": "quantitative"}}},
    {"data": {"values": [{}]}, "mark": {"type": "text", "text": "Cxcl12", "fontStyle": "italic", "fontSize": 16, "align": "right", "baseline": "middle"}, "encoding": {"x": {"datum": 0.88, "type": "quantitative"}, "y": {"datum": 0.825, "type": "quantitative"}}},
    {"data": {"values": [{}]}, "mark": {"type": "text", "text": "3'UTR", "fontSize": 16, "align": "left", "baseline": "middle", "dx": 4}, "encoding": {"x": {"datum": 0.88, "type": "quantitative"}, "y": {"datum": 0.825, "type": "quantitative"}}}
   ]
  }
  ],
  "bounds": "flush",
  "spacing": 55
 }
 ]
},
{
 "spacing": -7,
 "resolve": {"scale": {"color": "independent"}, "legend": {"color": "independent"}},
 "vconcat": [
 {
  "hconcat": [
  {
   "width": 153, "height": 161,
   "layer": [
    {"encoding": {
      "x": {"field": "x", "type": "quantitative", "scale": {"domain": [0.41, 5.69], "nice": false, "zero": false},
            "axis": {"title": null, "values": [1, 3.5], "labelExpr": "datum.value==1?'siRNA':'137–3p + 153–3p'", "ticks": false, "tickSize": 0, "labelPadding": 26, "labelBaseline": "middle", "labelAngle": 0, "labelAlign": "center"}},
      "y": {"field": "y", "type": "quantitative", "scale": {"domain": [0, 4.02], "nice": false},
            "axis": {"title": "FC luciferase activity", "titleFontSize": 12.5, "labelFontSize": 10.5, "values": [0,1,2,3,4], "format": "d"}}},
     "layer": [
      {"data": {"name": "bars"}, "transform": [{"filter": "datum.p=='e'"}], "layer": [
        {"mark": {"type": "bar", "size": 18, "fill": "#7cc3c2", "stroke": "#444", "strokeWidth": 1}},
        {"mark": {"type": "rule", "color": "#333", "strokeWidth": 1.2}, "encoding": {"y": {"field": "lo", "type": "quantitative"}, "y2": {"field": "hi"}}},
        {"mark": {"type": "tick", "orient": "horizontal", "size": 6, "thickness": 1.2, "color": "#333"}, "encoding": {"y": {"field": "lo", "type": "quantitative"}}},
        {"mark": {"type": "tick", "orient": "horizontal", "size": 6, "thickness": 1.2, "color": "#333"}, "encoding": {"y": {"field": "hi", "type": "quantitative"}}}
      ]},
      {"data": {"name": "pts"}, "transform": [{"filter": "datum.p=='e'"}, {"flatten": ["y"]}, {"window": [{"op": "row_number", "as": "i"}], "groupby": ["x"]}], "layer": [
        {"transform": [{"filter": "datum.i%5==1"}], "mark": {"type": "circle", "size": 16, "color": "#777", "opacity": 1, "xOffset": -5}},
        {"transform": [{"filter": "datum.i%5==2"}], "mark": {"type": "circle", "size": 16, "color": "#777", "opacity": 1, "xOffset": 3}},
        {"transform": [{"filter": "datum.i%5==3"}], "mark": {"type": "circle", "size": 16, "color": "#777", "opacity": 1, "xOffset": -2}},
        {"transform": [{"filter": "datum.i%5==4"}], "mark": {"type": "circle", "size": 16, "color": "#777", "opacity": 1, "xOffset": 5}},
        {"transform": [{"filter": "datum.i%5==0"}], "mark": {"type": "circle", "size": 16, "color": "#777", "opacity": 1, "xOffset": 0}}
      ]},
      {"data": {"name": "sig"}, "transform": [{"filter": "datum.p=='e'"}], "layer": [
        {"mark": {"type": "rule", "color": "#333", "strokeWidth": 1.2}, "encoding": {"x2": {"field": "x2"}}},
        {"transform": [{"calculate": "(datum.x+datum.x2)/2", "as": "xm"}], "mark": {"type": "text", "fontSize": 17, "baseline": "alphabetic", "dy": 3}, "encoding": {"x": {"field": "xm", "type": "quantitative"}, "text": {"field": "s"}}}
      ]}
     ]},
    {"data": {"name": "dots"}, "transform": [{"filter": "datum.p=='e'"}], "encoding": {"x": {"field": "x", "type": "quantitative"}, "y": {"datum": -0.2, "type": "quantitative"}}, "layer": [
      {"mark": {"type": "circle", "size": 40, "opacity": 1, "xOffset": -4}, "encoding": {"color": {"field": "a", "type": "nominal", "scale": {"domain": ["o","b","g","r"], "range": ["#efa30f","#56b4e9","#9a9a9a","#d55e00"]}, "legend": null}}},
      {"mark": {"type": "circle", "size": 40, "opacity": 1, "xOffset": 4}, "encoding": {"color": {"field": "b", "type": "nominal", "scale": {"domain": ["o","b","g","r"], "range": ["#efa30f","#56b4e9","#9a9a9a","#d55e00"]}, "legend": null}}}
    ]},
    {"data": {"name": "grp"}, "transform": [{"filter": "datum.p=='e'"}], "mark": {"type": "rule", "color": "#555", "strokeWidth": 1.4}, "encoding": {"x": {"field": "from", "type": "quantitative"}, "x2": {"field": "to"}, "y": {"datum": -0.42, "type": "quantitative"}}},
    {"data": {"values": [{}]}, "mark": {"type": "text", "text": "Neurod1", "fontSize": 15, "fontStyle": "italic", "align": "center", "baseline": "middle"}, "encoding": {"x": {"datum": 3.03, "type": "quantitative"}, "y": {"datum": 4.47, "type": "quantitative"}}},
    {"data": {"values": [{}]}, "mark": {"type": "text", "text": "e", "fontSize": 19, "fontWeight": "bold", "align": "left", "baseline": "middle"}, "encoding": {"x": {"datum": -1.07, "type": "quantitative"}, "y": {"datum": 4.52, "type": "quantitative"}}}
   ]
  },
  {
   "width": 135, "height": 161,
   "layer": [
    {"encoding": {
      "x": {"field": "x", "type": "quantitative", "scale": {"domain": [0.44, 5.18], "nice": false, "zero": false},
            "axis": {"title": null, "values": [0.44, 3.5], "labelExpr": "datum.value<1?['control','128–3p']:['','137–3p + 153–3p']", "ticks": false, "tickSize": 0, "labelPadding": 20, "labelBaseline": "middle", "labelAngle": 0, "labelAlign": "center", "labelLineHeight": 16}},
      "y": {"field": "y", "type": "quantitative", "scale": {"domain": [0, 2.06], "nice": false},
            "axis": {"title": "FC luciferase activity", "titleFontSize": 12.5, "labelFontSize": 10.5, "values": [0,0.5,1,1.5,2], "format": ".1f"}}},
     "layer": [
      {"data": {"name": "bars"}, "transform": [{"filter": "datum.p=='f'"}], "layer": [
        {"mark": {"type": "bar", "size": 18, "fill": "#7cc3c2", "stroke": "#444", "strokeWidth": 1}},
        {"mark": {"type": "rule", "color": "#333", "strokeWidth": 1.2}, "encoding": {"y": {"field": "lo", "type": "quantitative"}, "y2": {"field": "hi"}}},
        {"mark": {"type": "tick", "orient": "horizontal", "size": 6, "thickness": 1.2, "color": "#333"}, "encoding": {"y": {"field": "lo", "type": "quantitative"}}},
        {"mark": {"type": "tick", "orient": "horizontal", "size": 6, "thickness": 1.2, "color": "#333"}, "encoding": {"y": {"field": "hi", "type": "quantitative"}}}
      ]},
      {"data": {"name": "pts"}, "transform": [{"filter": "datum.p=='f'"}, {"flatten": ["y"]}, {"window": [{"op": "row_number", "as": "i"}], "groupby": ["x"]}], "layer": [
        {"transform": [{"filter": "datum.i%5==1"}], "mark": {"type": "circle", "size": 16, "color": "#777", "opacity": 1, "xOffset": -5}},
        {"transform": [{"filter": "datum.i%5==2"}], "mark": {"type": "circle", "size": 16, "color": "#777", "opacity": 1, "xOffset": 3}},
        {"transform": [{"filter": "datum.i%5==3"}], "mark": {"type": "circle", "size": 16, "color": "#777", "opacity": 1, "xOffset": -2}},
        {"transform": [{"filter": "datum.i%5==4"}], "mark": {"type": "circle", "size": 16, "color": "#777", "opacity": 1, "xOffset": 5}},
        {"transform": [{"filter": "datum.i%5==0"}], "mark": {"type": "circle", "size": 16, "color": "#777", "opacity": 1, "xOffset": 0}}
      ]},
      {"data": {"name": "sig"}, "transform": [{"filter": "datum.p=='f'"}], "layer": [
        {"mark": {"type": "rule", "color": "#333", "strokeWidth": 1.2}, "encoding": {"x2": {"field": "x2"}}},
        {"transform": [{"calculate": "(datum.x+datum.x2)/2", "as": "xm"}], "mark": {"type": "text", "fontSize": 17, "baseline": "alphabetic", "dy": 3}, "encoding": {"x": {"field": "xm", "type": "quantitative"}, "text": {"field": "s"}}}
      ]}
     ]},
    {"data": {"name": "dots"}, "transform": [{"filter": "datum.p=='f'"}], "encoding": {"x": {"field": "x", "type": "quantitative"}, "y": {"datum": -0.1, "type": "quantitative"}}, "layer": [
      {"mark": {"type": "circle", "size": 40, "opacity": 1, "xOffset": -4}, "encoding": {"color": {"field": "a", "type": "nominal", "scale": {"domain": ["o","b","g","r"], "range": ["#efa30f","#56b4e9","#9a9a9a","#d55e00"]}, "legend": null}}},
      {"mark": {"type": "circle", "size": 40, "opacity": 1, "xOffset": 4}, "encoding": {"color": {"field": "b", "type": "nominal", "scale": {"domain": ["o","b","g","r"], "range": ["#efa30f","#56b4e9","#9a9a9a","#d55e00"]}, "legend": null}}}
    ]},
    {"data": {"name": "grp"}, "transform": [{"filter": "datum.p=='f'"}], "mark": {"type": "rule", "color": "#555", "strokeWidth": 1.4}, "encoding": {"x": {"field": "from", "type": "quantitative"}, "x2": {"field": "to"}, "y": {"datum": -0.33, "type": "quantitative"}}},
    {"data": {"values": [{}]}, "mark": {"type": "text", "text": "Neurod1 long", "fontSize": 15, "fontStyle": "italic", "align": "center", "baseline": "middle"}, "encoding": {"x": {"datum": 3.18, "type": "quantitative"}, "y": {"datum": 2.29, "type": "quantitative"}}},
    {"data": {"values": [{}]}, "mark": {"type": "text", "text": "f", "fontSize": 19, "fontWeight": "bold", "align": "left", "baseline": "middle"}, "encoding": {"x": {"datum": -1.31, "type": "quantitative"}, "y": {"datum": 2.32, "type": "quantitative"}}}
   ]
  },
  {
   "width": 142, "height": 161,
   "layer": [
    {"encoding": {
      "x": {"field": "x", "type": "quantitative", "scale": {"domain": [0.41, 5.31], "nice": false, "zero": false},
            "axis": {"title": null, "values": [1, 3.5], "labelExpr": "datum.value==1?'siRNA':'137–3p + 153–3p'", "ticks": false, "tickSize": 0, "labelPadding": 28, "labelBaseline": "middle", "labelAngle": 0, "labelAlign": "center"}},
      "y": {"field": "y", "type": "quantitative", "scale": {"domain": [0, 3.26], "nice": false},
            "axis": {"title": "FC luciferase activity", "titleFontSize": 12.5, "labelFontSize": 10.5, "values": [0,1,2,3], "format": "d"}}},
     "layer": [
      {"data": {"name": "bars"}, "transform": [{"filter": "datum.p=='g'"}], "layer": [
        {"mark": {"type": "bar", "size": 18, "fill": "#7cc3c2", "stroke": "#444", "strokeWidth": 1}},
        {"mark": {"type": "rule", "color": "#333", "strokeWidth": 1.2}, "encoding": {"y": {"field": "lo", "type": "quantitative"}, "y2": {"field": "hi"}}},
        {"mark": {"type": "tick", "orient": "horizontal", "size": 6, "thickness": 1.2, "color": "#333"}, "encoding": {"y": {"field": "lo", "type": "quantitative"}}},
        {"mark": {"type": "tick", "orient": "horizontal", "size": 6, "thickness": 1.2, "color": "#333"}, "encoding": {"y": {"field": "hi", "type": "quantitative"}}}
      ]},
      {"data": {"name": "pts"}, "transform": [{"filter": "datum.p=='g'"}, {"flatten": ["y"]}, {"window": [{"op": "row_number", "as": "i"}], "groupby": ["x"]}], "layer": [
        {"transform": [{"filter": "datum.i%5==1"}], "mark": {"type": "circle", "size": 16, "color": "#777", "opacity": 1, "xOffset": -5}},
        {"transform": [{"filter": "datum.i%5==2"}], "mark": {"type": "circle", "size": 16, "color": "#777", "opacity": 1, "xOffset": 3}},
        {"transform": [{"filter": "datum.i%5==3"}], "mark": {"type": "circle", "size": 16, "color": "#777", "opacity": 1, "xOffset": -2}},
        {"transform": [{"filter": "datum.i%5==4"}], "mark": {"type": "circle", "size": 16, "color": "#777", "opacity": 1, "xOffset": 5}},
        {"transform": [{"filter": "datum.i%5==0"}], "mark": {"type": "circle", "size": 16, "color": "#777", "opacity": 1, "xOffset": 0}}
      ]},
      {"data": {"name": "sig"}, "transform": [{"filter": "datum.p=='g'"}], "layer": [
        {"mark": {"type": "rule", "color": "#333", "strokeWidth": 1.2}, "encoding": {"x2": {"field": "x2"}}},
        {"transform": [{"calculate": "(datum.x+datum.x2)/2", "as": "xm"}], "mark": {"type": "text", "fontSize": 17, "baseline": "alphabetic", "dy": 3}, "encoding": {"x": {"field": "xm", "type": "quantitative"}, "text": {"field": "s"}}}
      ]}
     ]},
    {"data": {"name": "dots"}, "transform": [{"filter": "datum.p=='g'"}], "encoding": {"x": {"field": "x", "type": "quantitative"}, "y": {"datum": -0.16, "type": "quantitative"}}, "layer": [
      {"mark": {"type": "circle", "size": 40, "opacity": 1, "xOffset": -4}, "encoding": {"color": {"field": "a", "type": "nominal", "scale": {"domain": ["o","b","g","r"], "range": ["#efa30f","#56b4e9","#9a9a9a","#d55e00"]}, "legend": null}}},
      {"mark": {"type": "circle", "size": 40, "opacity": 1, "xOffset": 4}, "encoding": {"color": {"field": "b", "type": "nominal", "scale": {"domain": ["o","b","g","r"], "range": ["#efa30f","#56b4e9","#9a9a9a","#d55e00"]}, "legend": null}}}
    ]},
    {"data": {"name": "grp"}, "transform": [{"filter": "datum.p=='g'"}], "mark": {"type": "rule", "color": "#555", "strokeWidth": 1.4}, "encoding": {"x": {"field": "from", "type": "quantitative"}, "x2": {"field": "to"}, "y": {"datum": -0.385, "type": "quantitative"}}},
    {"data": {"values": [{}]}, "mark": {"type": "text", "text": "Src", "fontSize": 15, "fontStyle": "italic", "align": "center", "baseline": "middle"}, "encoding": {"x": {"datum": 3.06, "type": "quantitative"}, "y": {"datum": 3.66, "type": "quantitative"}}},
    {"data": {"values": [{}]}, "mark": {"type": "text", "text": "g", "fontSize": 19, "fontWeight": "bold", "align": "left", "baseline": "middle"}, "encoding": {"x": {"datum": -0.9, "type": "quantitative"}, "y": {"datum": 3.62, "type": "quantitative"}}}
   ]
  },
  {
   "width": 148, "height": 161,
   "layer": [
    {"encoding": {
      "x": {"field": "x", "type": "quantitative", "scale": {"domain": [0.37, 5.56], "nice": false, "zero": false},
            "axis": {"title": null, "values": [1, 3.5], "labelExpr": "datum.value==1?'siRNA':'137–3p + 135b–5p'", "ticks": false, "tickSize": 0, "labelPadding": 29, "labelBaseline": "middle", "labelAngle": 0, "labelAlign": "center"}},
      "y": {"field": "y", "type": "quantitative", "scale": {"domain": [0, 3.07], "nice": false},
            "axis": {"title": "FC luciferase activity", "titleFontSize": 12.5, "labelFontSize": 10.5, "values": [0,1,2,3], "format": "d"}}},
     "layer": [
      {"data": {"name": "bars"}, "transform": [{"filter": "datum.p=='h'"}], "layer": [
        {"mark": {"type": "bar", "size": 18, "fill": "#7cc3c2", "stroke": "#444", "strokeWidth": 1}},
        {"mark": {"type": "rule", "color": "#333", "strokeWidth": 1.2}, "encoding": {"y": {"field": "lo", "type": "quantitative"}, "y2": {"field": "hi"}}},
        {"mark": {"type": "tick", "orient": "horizontal", "size": 6, "thickness": 1.2, "color": "#333"}, "encoding": {"y": {"field": "lo", "type": "quantitative"}}},
        {"mark": {"type": "tick", "orient": "horizontal", "size": 6, "thickness": 1.2, "color": "#333"}, "encoding": {"y": {"field": "hi", "type": "quantitative"}}}
      ]},
      {"data": {"name": "pts"}, "transform": [{"filter": "datum.p=='h'"}, {"flatten": ["y"]}, {"window": [{"op": "row_number", "as": "i"}], "groupby": ["x"]}], "layer": [
        {"transform": [{"filter": "datum.i%5==1"}], "mark": {"type": "circle", "size": 16, "color": "#777", "opacity": 1, "xOffset": -5}},
        {"transform": [{"filter": "datum.i%5==2"}], "mark": {"type": "circle", "size": 16, "color": "#777", "opacity": 1, "xOffset": 3}},
        {"transform": [{"filter": "datum.i%5==3"}], "mark": {"type": "circle", "size": 16, "color": "#777", "opacity": 1, "xOffset": -2}},
        {"transform": [{"filter": "datum.i%5==4"}], "mark": {"type": "circle", "size": 16, "color": "#777", "opacity": 1, "xOffset": 5}},
        {"transform": [{"filter": "datum.i%5==0"}], "mark": {"type": "circle", "size": 16, "color": "#777", "opacity": 1, "xOffset": 0}}
      ]},
      {"data": {"name": "sig"}, "transform": [{"filter": "datum.p=='h'"}], "layer": [
        {"mark": {"type": "rule", "color": "#333", "strokeWidth": 1.2}, "encoding": {"x2": {"field": "x2"}}},
        {"transform": [{"calculate": "(datum.x+datum.x2)/2", "as": "xm"}], "mark": {"type": "text", "fontSize": 17, "baseline": "alphabetic", "dy": 3}, "encoding": {"x": {"field": "xm", "type": "quantitative"}, "text": {"field": "s"}}}
      ]}
     ]},
    {"data": {"name": "dots"}, "transform": [{"filter": "datum.p=='h'"}], "encoding": {"x": {"field": "x", "type": "quantitative"}, "y": {"datum": -0.153, "type": "quantitative"}}, "layer": [
      {"mark": {"type": "circle", "size": 40, "opacity": 1, "xOffset": -4}, "encoding": {"color": {"field": "a", "type": "nominal", "scale": {"domain": ["o","b","g","r"], "range": ["#efa30f","#56b4e9","#9a9a9a","#d55e00"]}, "legend": null}}},
      {"mark": {"type": "circle", "size": 40, "opacity": 1, "xOffset": 4}, "encoding": {"color": {"field": "b", "type": "nominal", "scale": {"domain": ["o","b","g","r"], "range": ["#efa30f","#56b4e9","#9a9a9a","#d55e00"]}, "legend": null}}}
    ]},
    {"data": {"name": "grp"}, "transform": [{"filter": "datum.p=='h'"}], "mark": {"type": "rule", "color": "#555", "strokeWidth": 1.4}, "encoding": {"x": {"field": "from", "type": "quantitative"}, "x2": {"field": "to"}, "y": {"datum": -0.38, "type": "quantitative"}}},
    {"data": {"values": [{}]}, "mark": {"type": "text", "text": "Cxcl12", "fontSize": 15, "fontStyle": "italic", "align": "center", "baseline": "middle"}, "encoding": {"x": {"datum": 3.0, "type": "quantitative"}, "y": {"datum": 3.36, "type": "quantitative"}}},
    {"data": {"values": [{}]}, "mark": {"type": "text", "text": "h", "fontSize": 19, "fontWeight": "bold", "align": "left", "baseline": "middle"}, "encoding": {"x": {"datum": -0.3, "type": "quantitative"}, "y": {"datum": 3.45, "type": "quantitative"}}}
   ]
  }
  ],
  "bounds": "flush",
  "spacing": 55
 },
 {
  "hconcat": [
  {
   "width": 216, "height": 204,
   "layer": [
    {"data": {"name": "expr"}, "transform": [{"filter": "datum.p=='i'"}],
     "encoding": {
      "x": {"field": "x", "type": "quantitative", "scale": {"domain": [13.74, 20.78], "nice": false, "zero": false},
            "axis": {"title": null, "values": [14, 14.5, 16.5, 17, 20], "labelExpr": "datum.value==20?'P0':'E'+datum.value", "labelAngle": -35, "labelAlign": "right", "labelBaseline": "top", "labelFontSize": 13}},
      "y": {"field": "y", "type": "quantitative", "scale": {"domain": [0, 1.29], "nice": false},
            "axis": {"title": "Normalized expression", "titleFontSize": 17, "titlePadding": 1, "labelFontSize": 13, "values": [0,0.2,0.4,0.6,0.8,1,1.2], "format": ".1f"}},
      "color": {"field": "s", "type": "nominal", "scale": {"domain": ["Neurod1","miR-137-3p","miR-153-3p"], "range": ["#3e4b4b","#efa30f","#56b4e9"]},
       "legend": {"orient": "bottom-right", "offset": 12, "title": null, "symbolSize": 0, "symbolOpacity": 0, "symbolStrokeWidth": 0, "labelFontSize": 13.5, "labelAlign": "right", "labelOffset": 0, "rowPadding": -3,
        "encode": {"labels": {"update": {"fill": {"signal": "datum.value=='miR-137-3p'?'#f3b440':datum.value=='miR-153-3p'?'#5ab7ea':datum.value=='miR-135b-5p'?'#dc6a1e':'#4d5959'"}, "fontStyle": {"signal": "indexof(datum.value,'miR')==0?'normal':'italic'"}}}}}}},
     "layer": [{"mark": {"type": "line", "strokeWidth": 2}}, {"mark": {"type": "circle", "size": 30, "opacity": 1}}]},
    {"data": {"values": [{}]}, "mark": {"type": "text", "text": "i", "fontSize": 19, "fontWeight": "bold", "align": "left", "baseline": "middle"}, "encoding": {"x": {"datum": 12.34, "type": "quantitative"}, "y": {"datum": 1.45, "type": "quantitative"}}}
   ]
  },
  {
   "width": 207, "height": 204,
   "layer": [
    {"data": {"name": "expr"}, "transform": [{"filter": "datum.p=='j'"}],
     "encoding": {
      "x": {"field": "x", "type": "quantitative", "scale": {"domain": [13.68, 20.36], "nice": false, "zero": false},
            "axis": {"title": null, "values": [14, 14.5, 16.5, 17, 20], "labelExpr": "datum.value==20?'P0':'E'+datum.value", "labelAngle": -35, "labelAlign": "right", "labelBaseline": "top", "labelFontSize": 13}},
      "y": {"field": "y", "type": "quantitative", "scale": {"domain": [0, 1.29], "nice": false},
            "axis": {"title": "Normalized expression", "titleFontSize": 17, "titlePadding": 1, "labelFontSize": 13, "values": [0,0.2,0.4,0.6,0.8,1,1.2], "format": ".1f"}},
      "color": {"field": "s", "type": "nominal", "scale": {"domain": ["Src","miR-137-3p","miR-153-3p"], "range": ["#3e4b4b","#efa30f","#56b4e9"]},
       "legend": {"orient": "bottom-right", "offset": 12, "title": null, "symbolSize": 0, "symbolOpacity": 0, "symbolStrokeWidth": 0, "labelFontSize": 13.5, "labelAlign": "right", "labelOffset": 0, "rowPadding": -3,
        "encode": {"labels": {"update": {"fill": {"signal": "datum.value=='miR-137-3p'?'#f3b440':datum.value=='miR-153-3p'?'#5ab7ea':datum.value=='miR-135b-5p'?'#dc6a1e':'#4d5959'"}, "fontStyle": {"signal": "indexof(datum.value,'miR')==0?'normal':'italic'"}}}}}}},
     "layer": [{"mark": {"type": "line", "strokeWidth": 2}}, {"mark": {"type": "circle", "size": 30, "opacity": 1}}]},
    {"data": {"values": [{}]}, "mark": {"type": "text", "text": "j", "fontSize": 19, "fontWeight": "bold", "align": "left", "baseline": "middle"}, "encoding": {"x": {"datum": 12.39, "type": "quantitative"}, "y": {"datum": 1.43, "type": "quantitative"}}}
   ]
  },
  {
   "width": 215, "height": 204,
   "layer": [
    {"data": {"name": "expr"}, "transform": [{"filter": "datum.p=='k'"}],
     "encoding": {
      "x": {"field": "x", "type": "quantitative", "scale": {"domain": [13.39, 20.33], "nice": false, "zero": false},
            "axis": {"title": null, "values": [14, 14.5, 16.5, 17, 20], "labelExpr": "datum.value==20?'P0':'E'+datum.value", "labelAngle": -35, "labelAlign": "right", "labelBaseline": "top", "labelFontSize": 13}},
      "y": {"field": "y", "type": "quantitative", "scale": {"domain": [0, 1.255], "nice": false},
            "axis": {"title": "Normalized expression", "titleFontSize": 17, "titlePadding": 1, "labelFontSize": 13, "values": [0,0.2,0.4,0.6,0.8,1,1.2], "format": ".1f"}},
      "color": {"field": "s", "type": "nominal", "scale": {"domain": ["Cxcl12","miR-137-3p","miR-135b-5p"], "range": ["#3e4b4b","#efa30f","#d55e00"]},
       "legend": {"orient": "bottom-right", "offset": 10, "title": null, "symbolSize": 0, "symbolOpacity": 0, "symbolStrokeWidth": 0, "labelFontSize": 13.5, "labelAlign": "right", "labelOffset": 0, "rowPadding": 0,
        "encode": {"labels": {"update": {"fill": {"signal": "datum.value=='miR-137-3p'?'#f3b440':datum.value=='miR-153-3p'?'#5ab7ea':datum.value=='miR-135b-5p'?'#dc6a1e':'#4d5959'"}, "fontStyle": {"signal": "indexof(datum.value,'miR')==0?'normal':'italic'"}}}}}}},
     "layer": [{"mark": {"type": "line", "strokeWidth": 2}}, {"mark": {"type": "circle", "size": 30, "opacity": 1}}]},
    {"data": {"values": [{}]}, "mark": {"type": "text", "text": "k", "fontSize": 19, "fontWeight": "bold", "align": "left", "baseline": "middle"}, "encoding": {"x": {"datum": 11.84, "type": "quantitative"}, "y": {"datum": 1.32, "type": "quantitative"}}}
   ]
  }
  ],
  "bounds": "flush",
  "spacing": 55,
  "resolve": {"scale": {"color": "independent"}, "legend": {"color": "independent"}}
 }
 ]
}
]
}
